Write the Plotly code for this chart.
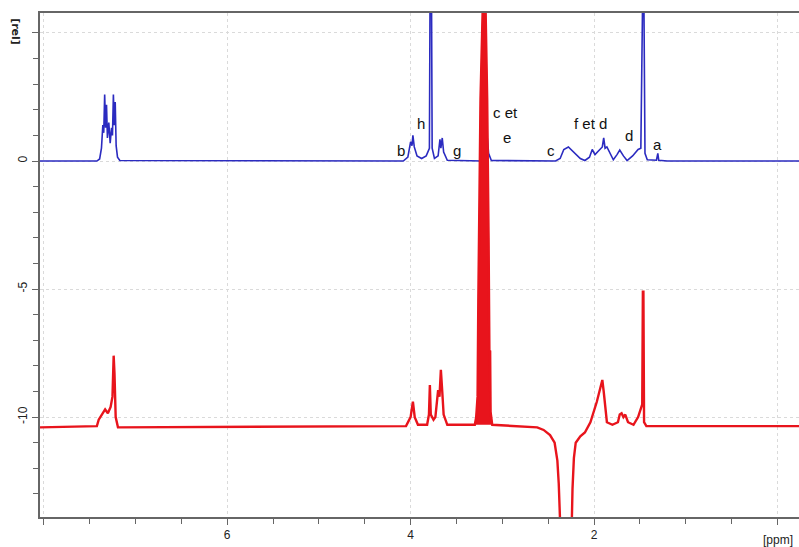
import plotly.graph_objects as go

# ---- data (ppm, intensity [rel]) ----
blue_ppm = [8.04, 7.42, 7.39, 7.37, 7.355, 7.345, 7.335, 7.325, 7.315, 7.305, 7.29, 7.275,
            7.26, 7.25, 7.24, 7.23, 7.22, 7.21, 7.195, 7.17,
            4.08, 4.03, 4.00, 3.985, 3.975, 3.96, 3.93, 3.88, 3.83, 3.795, 3.785, 3.775,
            3.765, 3.74, 3.70, 3.68, 3.67, 3.655, 3.64, 3.60,
            3.23, 3.20, 3.18, 3.17, 3.16, 3.15, 3.12,
            2.42, 2.37, 2.33, 2.28, 2.22, 2.15, 2.10, 2.05, 2.02, 1.99, 1.95, 1.91, 1.895,
            1.88, 1.86, 1.82, 1.79, 1.75, 1.72, 1.68, 1.64, 1.58, 1.52, 1.49, 1.475, 1.462,
            1.445, 1.42, 1.32, 1.305, 1.295, 1.20, -0.24]
blue_int = [0, 0, 0.08, 0.5, 1.4, 1.1, 2.6, 1.3, 2.2, 0.9, 1.5, 0.7,
            1.3, 1.0, 2.6, 1.4, 2.3, 0.6, 0.15, 0.02,
            0, 0.15, 0.75, 0.6, 1.0, 0.55, 0.2, 0.1, 0.2, 0.5, 9, 9,
            0.5, 0.1, 0.2, 0.85, 0.5, 0.9, 0.35, 0.03,
            0, 0.15, 0.7, 1.1, 0.75, 0.3, 0.02,
            0, 0.1, 0.45, 0.55, 0.35, 0.1, 0.02, 0.15, 0.45, 0.25, 0.4, 0.55, 0.9,
            0.5, 0.55, 0.25, 0.05, 0.25, 0.43, 0.2, 0.02, 0.2, 0.45, 0.5, 9, 9,
            0.3, 0.05, 0.03, 0.3, 0.03, 0, 0]

# big red singlet near 3.2 ppm (outline, drawn filled)
red_peak_ppm = [3.30, 3.285, 3.27, 3.262, 3.255, 3.238, 3.215, 3.208, 3.188, 3.182,
                3.165, 3.15, 3.143, 3.138, 3.133, 3.128, 3.11]
red_peak_int = [-10.3, -10.0, -9.2, -5.5, -3.0, 2.4, 5.8, 9.0, 9.0, 5.8,
                2.4, -3.0, -6.5, -9.0, -7.4, -9.8, -10.3]

red_ppm = [8.04, 7.42, 7.40, 7.36, 7.33, 7.30, 7.27, 7.25, 7.237, 7.228, 7.215, 7.19,
           4.05, 4.00, 3.975, 3.955, 3.92, 3.82, 3.80, 3.79, 3.78, 3.75, 3.73, 3.71, 3.70,
           3.685, 3.67, 3.655, 3.64, 3.60, 3.32] + red_peak_ppm + [
           2.62, 2.55, 2.48, 2.43, 2.40, 2.385, 2.372, 2.36, 2.30, 2.245, 2.235, 2.22,
           2.20, 2.15, 2.10, 2.04, 1.97, 1.93, 1.91, 1.895, 1.885, 1.86, 1.80, 1.74,
           1.72, 1.70, 1.68, 1.66, 1.63, 1.57, 1.52, 1.49, 1.475, 1.468, 1.462, 1.455,
           1.43, -0.24]
red_int = [-10.4, -10.35, -10.1, -9.9, -9.7, -9.85, -9.6, -9.2, -7.6, -8.3, -10.0, -10.4,
           -10.35, -10.0, -9.4, -10.0, -10.3, -10.3, -9.9, -8.75, -9.9, -10.1, -10.0, -9.3, -8.95,
           -9.2, -8.15, -9.0, -9.9, -10.3, -10.3] + red_peak_int + [
           -10.4, -10.5, -10.7, -11.0, -11.7, -12.6, -13.9, -15, -18, -14.5, -12.8, -11.6,
           -11.0, -10.75, -10.6, -10.2, -9.4, -8.9, -8.55, -9.0, -9.4, -10.2, -10.3, -10.2,
           -9.9, -9.85, -10.0, -9.9, -10.2, -10.3, -10.0, -9.7, -9.5, -5.1, -5.1, -10.2,
           -10.35, -10.35]

label_text = ["b", "h", "g", "c et", "e", "c", "f et d", "d", "a"]
label_ppm = [4.11, 3.89, 3.49, 2.97, 2.95, 2.47, 2.04, 1.62, 1.31]
label_int = [0.43, 1.45, 0.43, 1.88, 0.9, 0.43, 1.48, 1.0, 0.66]

x_tickvals = [0, 2, 4, 6, 8]
x_ticktext = ["", "2", "4", "6", ""]
y_tickvals = [-10, -5, 0, 5]
y_ticktext = ["-10", "-5", "0", ""]

RED = "#e8141c"
BLUE = "#2b2bc0"

fig = go.Figure()
fig.add_trace(go.Scatter(x=blue_ppm, y=blue_int, mode="lines",
                         line=dict(color=BLUE, width=1.6), hoverinfo="skip"))
fig.add_trace(go.Scatter(x=red_peak_ppm, y=red_peak_int, mode="lines", fill="toself",
                         fillcolor=RED, line=dict(color=RED, width=1), hoverinfo="skip"))
fig.add_trace(go.Scatter(x=red_ppm, y=red_int, mode="lines",
                         line=dict(color=RED, width=2.4), hoverinfo="skip"))

for t, xv, yv in zip(label_text, label_ppm, label_int):
    fig.add_annotation(x=xv, y=yv, text=t, showarrow=False, xref="x", yref="y",
                       font=dict(family="Liberation Sans, Arial", size=15, color="#111"))

fig.add_annotation(x=0, y=0, xref="x", yref="paper", text="[ppm]", showarrow=False,
                   xanchor="center", yanchor="top", yshift=-14,
                   font=dict(family="Liberation Sans, Arial", size=12, color="#222"))
fig.add_annotation(x=-0.0316, y=0.964, xref="paper", yref="paper", text="<b>[rel]</b>",
                   showarrow=False, textangle=90, xanchor="center", yanchor="middle",
                   font=dict(family="DejaVu Sans, Arial", size=11, color="#222"))

axis_font = dict(family="Liberation Sans, Arial", size=12, color="#222")
fig.update_xaxes(range=[8.04, -0.234], tickmode="array", tickvals=x_tickvals,
                 ticktext=x_ticktext, ticks="outside", ticklen=6, tickcolor="#666",
                 showline=True, linecolor="#666", linewidth=2, mirror=True,
                 showgrid=True, gridcolor="#dadada", griddash="dot", gridwidth=1,
                 zeroline=False, tickfont=axis_font,
                 minor=dict(tickmode="linear", tick0=0, dtick=0.5, ticks="outside",
                            ticklen=5, tickcolor="#666", showgrid=False))
fig.update_yaxes(range=[-13.9, 5.78], tickmode="array", tickvals=y_tickvals,
                 ticktext=y_ticktext, ticks="outside", ticklen=6, tickcolor="#666",
                 tickangle=-90,
                 showline=True, linecolor="#666", linewidth=2, mirror=False,
                 showgrid=True, gridcolor="#dadada", griddash="dot", gridwidth=1,
                 zeroline=False, tickfont=axis_font,
                 minor=dict(tickmode="linear", tick0=0, dtick=1, ticks="outside",
                            ticklen=5, tickcolor="#666", showgrid=False))

fig.update_layout(width=799, height=547, margin=dict(l=40, r=0, t=13, b=30),
                  paper_bgcolor="white", plot_bgcolor="white", showlegend=False)

fig.write_html("out.html", config={"displayModeBar": False},
               post_script="document.body.style.margin='0px';")
